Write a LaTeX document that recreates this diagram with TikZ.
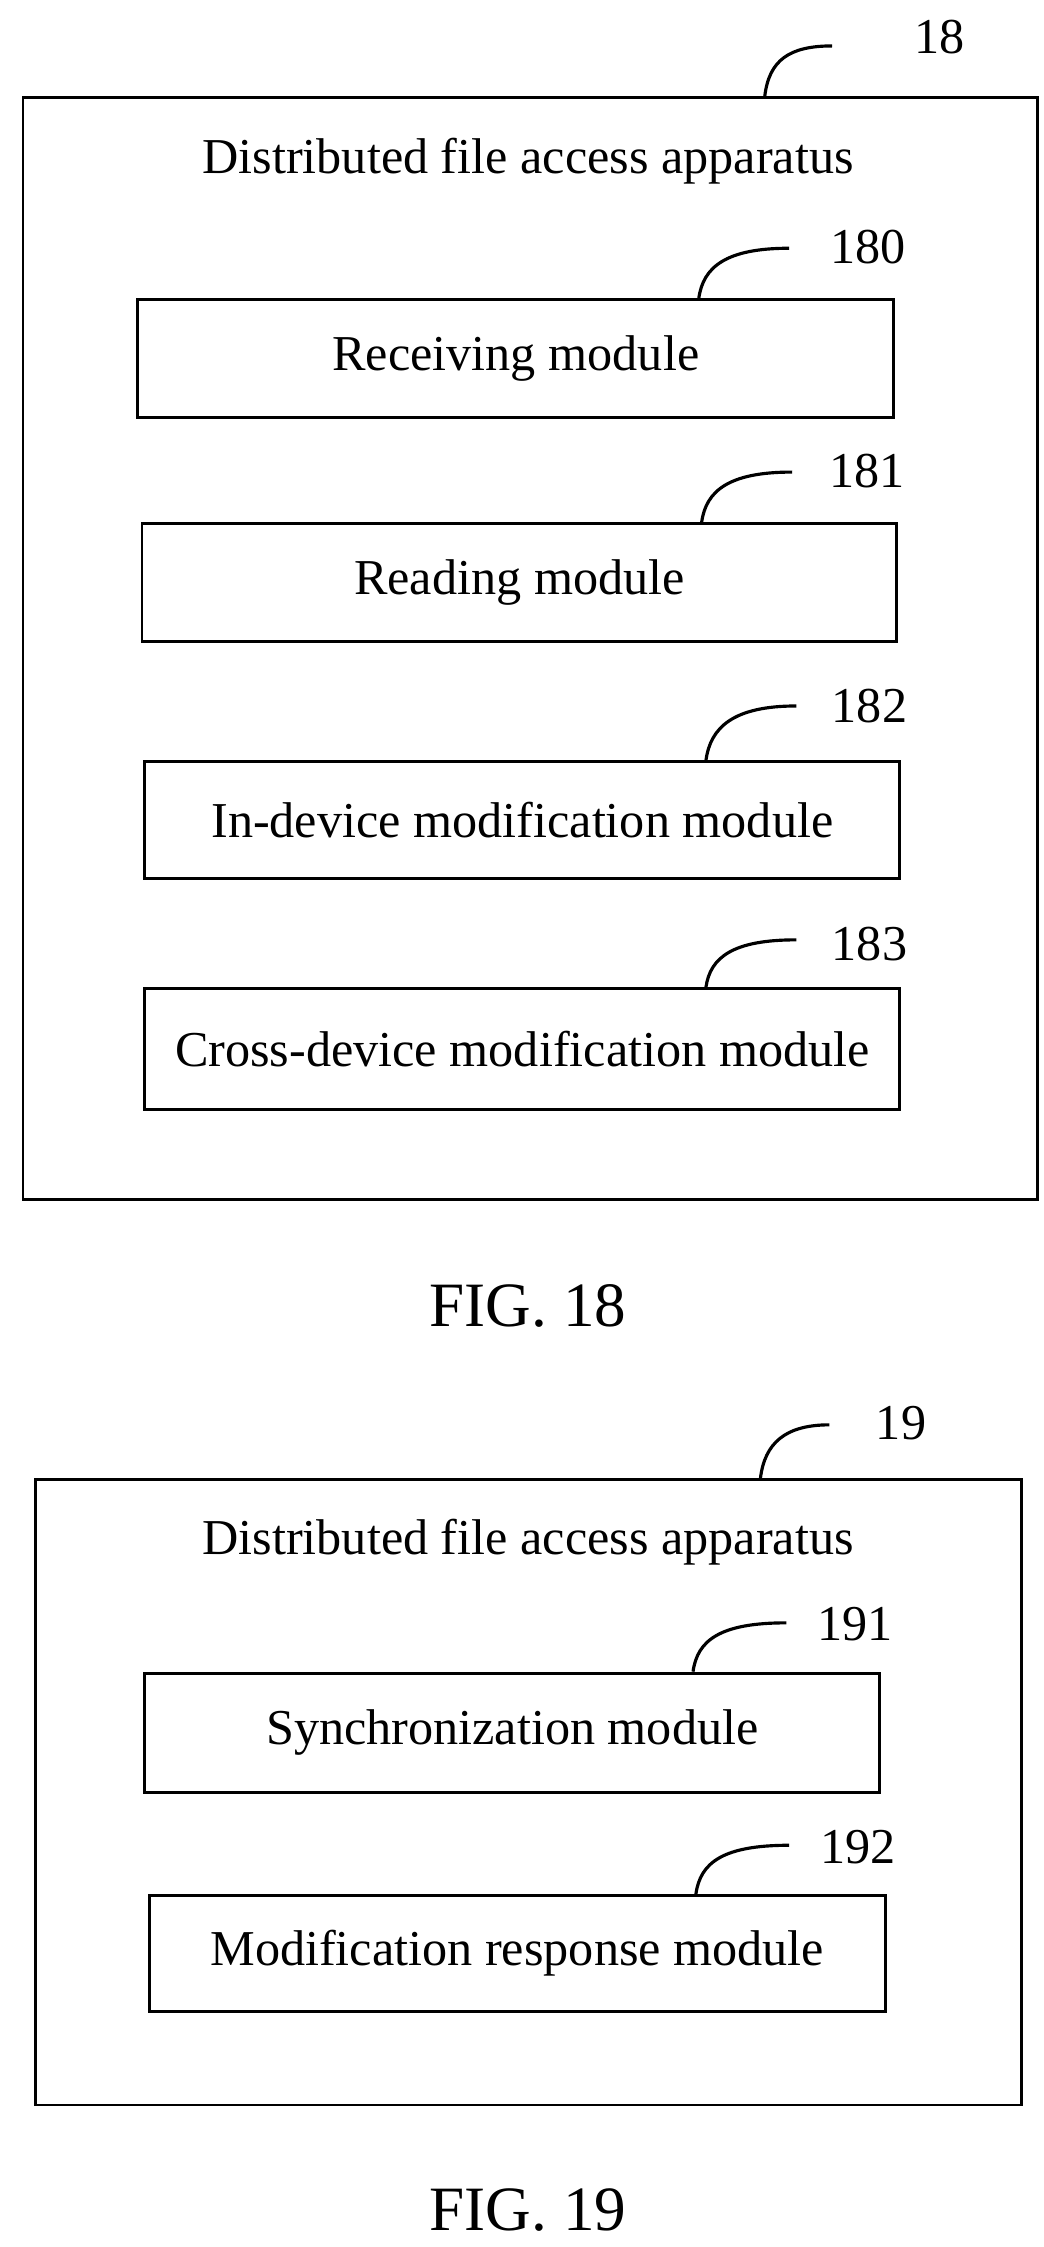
\documentclass[tikz,border=0pt]{standalone}
\usepackage{fontspec}
\setmainfont{Liberation Serif}
\usetikzlibrary{positioning}
\usetikzlibrary{calc}
\begin{document}
\begin{tikzpicture}[x=1pt,y=-1pt]
\tikzset{frame/.style={rectangle, draw, line width=2pt, anchor=north west, inner sep=0pt}}
\tikzset{module/.style={rectangle, draw, line width=2pt, anchor=north west, inner sep=0pt}}
\tikzset{title/.style={font=\fontsize{35}{40}\selectfont}}
\tikzset{ref/.style={font=\fontsize{35}{40}\selectfont}}
\tikzset{caption/.style={font=\fontsize{44}{50}\selectfont}}
\tikzset{leader/.style={line width=2.2pt}}
\useasboundingbox (0,0) rectangle (727,1566);
% FIG. 18
\node[frame, minimum width=707pt, minimum height=768pt] (app18) at (15,67) {};
\node[title] (title18) at (368,112) {Distributed file access apparatus};
\node[module, minimum width=527pt, minimum height=82pt] (recv) at (95,208) {};
\node[title] at (recv.center) {Receiving module};
\node[module, minimum width=526pt, minimum height=82pt] (read) at (98,364) {};
\node[title] at (read.center) {Reading module};
\node[module, minimum width=526pt, minimum height=81pt] (indev) at (100,530) {};
\node[title] at (indev.center) {In-device modification module};
\node[module, minimum width=526pt, minimum height=84pt] (cross) at (100,688) {};
\node[title] at (cross.center) {Cross-device modification module};
\node[ref] (l18) at (655,26) {18};
\node[ref] (l180) at (605,172) {180};
\node[ref] (l181) at (604,328) {181};
\node[ref] (l182) at (606,492) {182};
\node[ref] (l183) at (606,658) {183};
\coordinate (e18) at (580,32);
\coordinate (e180) at (550,173);
\coordinate (e181) at (552,329);
\coordinate (e182) at (555,492);
\coordinate (e183) at (555,655);
\draw[leader] (533,67) .. controls (536,42) and (550,32) .. (e18);
\draw[leader] (487,208) .. controls (490,186) and (506,173) .. (e180);
\draw[leader] (489,364) .. controls (492,342) and (508,329) .. (e181);
\draw[leader] (492,530) .. controls (495,507) and (511,492) .. (e182);
\draw[leader] (492,688) .. controls (495,667) and (511,655) .. (e183);
\node[caption] (fig18) at (368,910) {FIG. 18};
% FIG. 19
\node[frame, minimum width=687pt, minimum height=436pt] (app19) at (24,1030) {};
\node[title] (title19) at (368,1075) {Distributed file access apparatus};
\node[module, minimum width=512pt, minimum height=83pt] (sync) at (100,1165) {};
\node[title] at (sync.center) {Synchronization module};
\node[module, minimum width=513pt, minimum height=81pt] (resp) at (103,1320) {};
\node[title] at (resp.center) {Modification response module};
\node[ref] (l19) at (628,992) {19};
\node[ref] (l191) at (596,1132) {191};
\node[ref] (l192) at (598,1287) {192};
\coordinate (e19) at (578,993);
\coordinate (e191) at (548,1131);
\coordinate (e192) at (550,1286);
\draw[leader] (530,1030) .. controls (533,1006) and (547,993) .. (e19);
\draw[leader] (483,1165) .. controls (486,1143) and (502,1131) .. (e191);
\draw[leader] (485,1320) .. controls (488,1298) and (504,1286) .. (e192);
\node[caption] (fig19) at (368,1540) {FIG. 19};
\end{tikzpicture}
\end{document}
